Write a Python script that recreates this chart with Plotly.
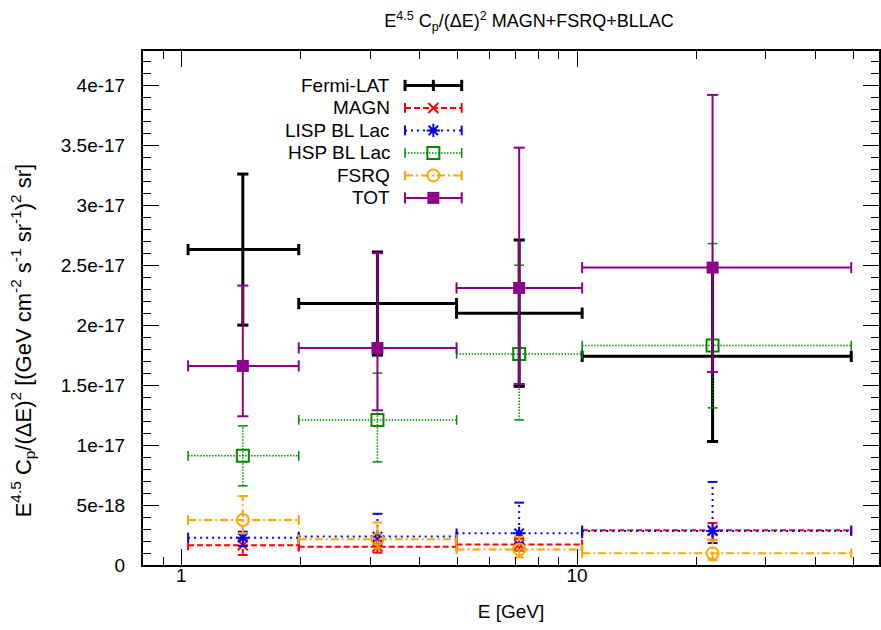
import plotly.graph_objects as go

# Energy bins [GeV]
e_center = [1.43, 3.13, 7.14, 22.0]
e_low = [1.04, 1.98, 4.96, 10.3]
e_high = [1.98, 4.96, 10.3, 49.3]

SCALE = 1e-17  # values below are in units of 1e-17

# Fermi-LAT measurement (symmetric errors)
fermi_y = [2.63, 2.18, 2.10, 1.74]
fermi_err = [0.63, 0.43, 0.61, 0.71]

# Model components: value, upper error, lower error
magn_y = [0.164, 0.153, 0.170, 0.290]
magn_up = [0.05, 0.05, 0.05, 0.06]
magn_dn = [0.08, 0.05, 0.05, 0.08]

lisp_y = [0.228, 0.237, 0.264, 0.283]
lisp_up = [0.05, 0.19, 0.256, 0.41]
lisp_dn = [0.07, 0.07, 0.08, 0.10]

hsp_y = [0.91, 1.21, 1.76, 1.83]
hsp_up = [0.25, 0.39, 0.74, 0.85]
hsp_dn = [0.25, 0.35, 0.55, 0.52]

fsrq_y = [0.375, 0.214, 0.130, 0.097]
fsrq_up = [0.20, 0.14, 0.105, 0.11]
fsrq_dn = [0.11, 0.075, 0.066, 0.057]

tot_y = [1.66, 1.81, 2.31, 2.48]
tot_up = [0.67, 0.79, 1.17, 1.44]
tot_dn = [0.42, 0.52, 0.80, 0.87]

y_tick_vals = [0, 0.5, 1.0, 1.5, 2.0, 2.5, 3.0, 3.5, 4.0]
y_tick_text = ["0", "5e-18", "1e-17", "1.5e-17", "2e-17", "2.5e-17", "3e-17", "3.5e-17", "4e-17"]
x_tick_vals = [1, 10]
x_tick_text = ["1", "10"]
x_minor_vals = [0.9, 2, 3, 4, 5, 6, 7, 8, 9, 20, 30, 40, 50]

FONT = "Liberation Sans, Arial, sans-serif"

series = [
    dict(name="Fermi-LAT", y=fermi_y, up=fermi_err, dn=fermi_err, color="#000000",
         width=3, dash="solid", symbol=None, size=0, mlw=0, cap=8),
    dict(name="MAGN", y=magn_y, up=magn_up, dn=magn_dn, color="#ff0000",
         width=2, dash="6px,3px", symbol="x-thin-open", size=10, mlw=2, cap=7),
    dict(name="LISP BL Lac", y=lisp_y, up=lisp_up, dn=lisp_dn, color="#0000ff",
         width=2, dash="2px,4px", symbol="asterisk-open", size=11, mlw=2, cap=7),
    dict(name="HSP BL Lac", y=hsp_y, up=hsp_up, dn=hsp_dn, color="#008a00",
         width=1.5, dash="1.5px,1.5px", symbol="square-open", size=12, mlw=2, cap=7),
    dict(name="FSRQ", y=fsrq_y, up=fsrq_up, dn=fsrq_dn, color="#ffa500",
         width=2, dash="8px,3px,2px,3px", symbol="circle-open", size=12, mlw=2, cap=7),
    dict(name="TOT", y=tot_y, up=tot_up, dn=tot_dn, color="#8c008c",
         width=2, dash="solid", symbol="square", size=12, mlw=0, cap=8),
]

fig = go.Figure()

for s in series:
    ys = [v * SCALE for v in s["y"]]
    yhi = [(v + u) * SCALE for v, u in zip(s["y"], s["up"])]
    ylo = [(v - d) * SCALE for v, d in zip(s["y"], s["dn"])]
    bx, by = [], []
    for xc, xl, xh, y, y0, y1 in zip(e_center, e_low, e_high, ys, ylo, yhi):
        bx += [xl, xh, None, xc, xc, None]
        by += [y, y, None, y0, y1, None]
    fig.add_trace(go.Scatter(x=bx, y=by, mode="lines",
                             line=dict(color=s["color"], width=s["width"], dash=s["dash"]),
                             hoverinfo="skip", showlegend=False))
    # caps at the ends of the horizontal bars
    cx, cy = [], []
    for xl, xh, y in zip(e_low, e_high, ys):
        cx += [xl, xh]
        cy += [y, y]
    fig.add_trace(go.Scatter(x=cx, y=cy, mode="markers",
                             marker=dict(symbol="line-ns", size=s["cap"],
                                         line=dict(color=s["color"], width=s["width"])),
                             hoverinfo="skip", showlegend=False))
    # caps at the ends of the vertical bars
    vx, vy = [], []
    for xc, y0, y1 in zip(e_center, ylo, yhi):
        vx += [xc, xc]
        vy += [y0, y1]
    fig.add_trace(go.Scatter(x=vx, y=vy, mode="markers",
                             marker=dict(symbol="line-ew", size=s["cap"],
                                         line=dict(color=s["color"], width=s["width"])),
                             hoverinfo="skip", showlegend=False))
    if s["symbol"]:
        fig.add_trace(go.Scatter(x=e_center, y=ys, mode="markers", name=s["name"],
                                 marker=dict(symbol=s["symbol"], size=s["size"], color=s["color"],
                                             line=dict(color=s["color"], width=s["mlw"])),
                                 showlegend=False))

# Key: text on the left, line sample on the right (drawn on a unit overlay axis)
key_x0, key_x1, key_xc = 0.356, 0.433, 0.3945
key_text_x = 0.3385
key_top, key_step = 0.933, 0.04375
for i, s in enumerate(series):
    ky = key_top - i * key_step
    fig.add_trace(go.Scatter(x=[key_x0, key_x1], y=[ky, ky], xaxis="x2", yaxis="y2", mode="lines",
                             line=dict(color=s["color"], width=s["width"], dash=s["dash"]),
                             hoverinfo="skip", showlegend=False))
    fig.add_trace(go.Scatter(x=[key_x0, key_x1], y=[ky, ky], xaxis="x2", yaxis="y2", mode="markers",
                             marker=dict(symbol="line-ns", size=s["cap"],
                                         line=dict(color=s["color"], width=s["width"])),
                             hoverinfo="skip", showlegend=False))
    if s["symbol"]:
        fig.add_trace(go.Scatter(x=[key_xc], y=[ky], xaxis="x2", yaxis="y2", mode="markers",
                                 marker=dict(symbol=s["symbol"], size=s["size"], color=s["color"],
                                             line=dict(color=s["color"], width=s["mlw"])),
                                 hoverinfo="skip", showlegend=False))
    else:
        fig.add_trace(go.Scatter(x=[key_xc], y=[ky], xaxis="x2", yaxis="y2", mode="markers",
                                 marker=dict(symbol="line-ns", size=s["cap"],
                                             line=dict(color=s["color"], width=s["width"])),
                                 hoverinfo="skip", showlegend=False))
    fig.add_annotation(x=key_text_x, y=ky, xref="paper", yref="paper", text=s["name"],
                       showarrow=False, xanchor="right", yanchor="middle",
                       font=dict(family=FONT, size=19, color="#000000"))

# y-axis label
fig.add_annotation(
    x=-(143 - 22) / (881 - 143), y=(565 - 341) / (565 - 51),
    xref="paper", yref="paper", xanchor="center", yanchor="middle",
    text="E<sup>4.5</sup> C<sub>p</sub>/(ΔE)<sup>2</sup> [(GeV cm<sup>-2</sup> s<sup>-1</sup> sr<sup>-1</sup>)<sup>2</sup> sr]",
    textangle=-90, showarrow=False, font=dict(family=FONT, size=22, color="#000000"))

fig.update_layout(
    width=881, height=630,
    margin=dict(l=143, r=0, t=51, b=65),
    paper_bgcolor="white", plot_bgcolor="white",
    font=dict(family=FONT, size=19, color="#000000"),
    title=dict(text="E<sup>4.5</sup> C<sub>p</sub>/(ΔE)<sup>2</sup> MAGN+FSRQ+BLLAC",
               x=529 / 881, xanchor="center", xref="container",
               y=1 - 21 / 630, yanchor="middle", yref="container",
               font=dict(family=FONT, size=18, color="#000000")),
    xaxis=dict(type="log", range=[-0.0969, 1.763],
               tickmode="array", tickvals=x_tick_vals, ticktext=x_tick_text,
               ticks="inside", ticklen=16, tickwidth=1.3, tickcolor="#000000",
               showline=True, linecolor="#000000", linewidth=2, mirror="allticks",
               showgrid=False, zeroline=False, ticklabelstandoff=-8,
               minor=dict(tickmode="array", tickvals=x_minor_vals, ticks="inside",
                          ticklen=8, tickwidth=1.3, tickcolor="#000000", showgrid=False),
               title=dict(text="E [GeV]", standoff=20, font=dict(family=FONT, size=19))),
    yaxis=dict(range=[0, 4.286e-17],
               tickmode="array", tickvals=[v * SCALE for v in y_tick_vals], ticktext=y_tick_text,
               ticks="inside", ticklen=16, tickwidth=1.3, tickcolor="#000000",
               showline=True, linecolor="#000000", linewidth=2, mirror="allticks",
               showgrid=False, zeroline=False, ticklabelstandoff=12,
               minor=dict(tick0=0, dtick=1e-18, ticks="inside", ticklen=8, tickwidth=1.3,
                          tickcolor="#000000", showgrid=False)),
    xaxis2=dict(range=[0, 1], overlaying="x", visible=False, fixedrange=True),
    yaxis2=dict(range=[0, 1], overlaying="y", visible=False, fixedrange=True),
)

fig.write_html("out.html")
